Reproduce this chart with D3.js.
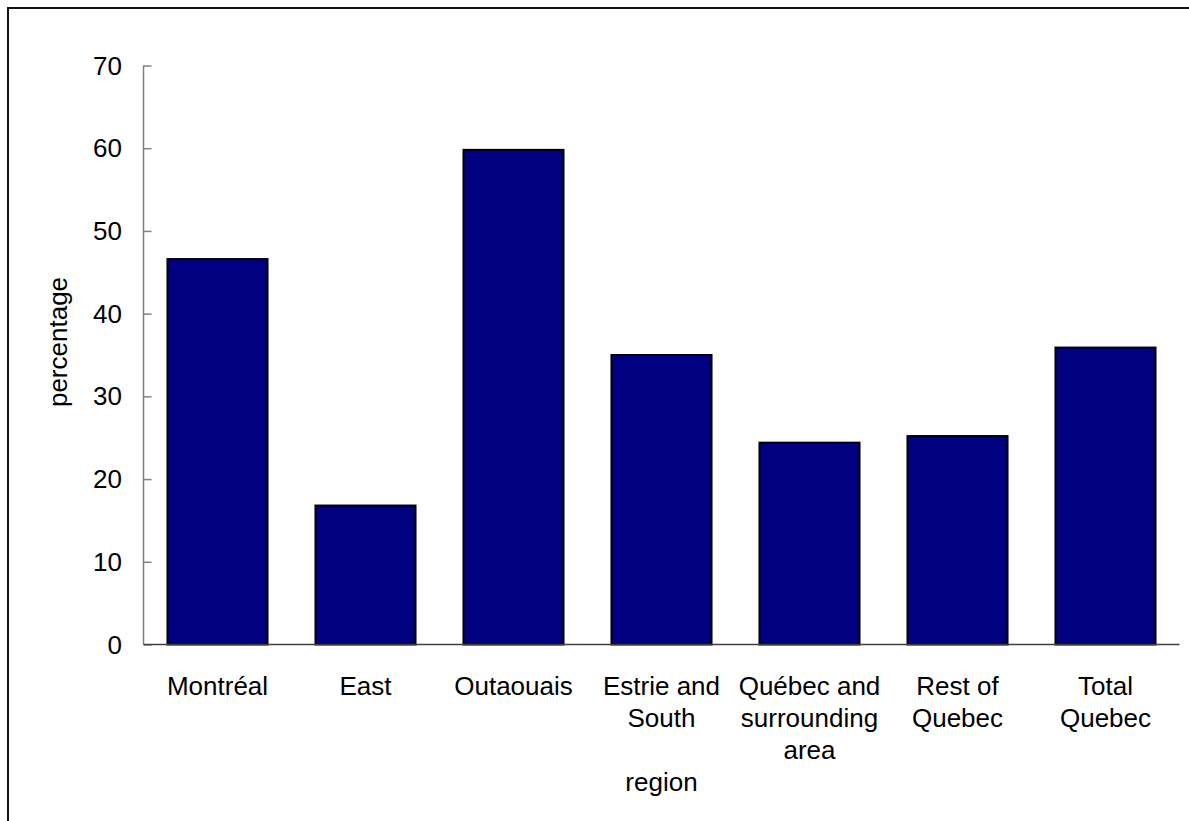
<!DOCTYPE html>
<html>
<head>
<meta charset="utf-8">
<script src="https://cdn.jsdelivr.net/npm/d3@7"></script>
<style>
  html, body { margin: 0; padding: 0; background: #fff; }
  svg { display: block; font-family: Arial, "Liberation Sans", sans-serif; }
</style>
</head>
<body>
<svg id="chart" width="1189" height="821"></svg>
<script>
const categories = [
  ["Montréal"],
  ["East"],
  ["Outaouais"],
  ["Estrie and", "South"],
  ["Québec and", "surrounding", "area"],
  ["Rest of", "Quebec"],
  ["Total", "Quebec"]
];
const values = [46.6, 16.8, 59.8, 35.0, 24.4, 25.2, 35.9];
const yTicks = [0, 10, 20, 30, 40, 50, 60, 70];
const xTitle = "region";
const yTitle = "percentage";

(function () {
const svg = d3.select("#chart");
const plotLeft = 143.5, plotRight = 1179.5, plotTop = 65.5, plotBottom = 644.5;
const fontSize = 26;

// frame
svg.append("rect")
  .attr("x", 8).attr("y", 8)
  .attr("width", 1300).attr("height", 1000)
  .attr("fill", "none").attr("stroke", "#111").attr("stroke-width", 2);

const keys = categories.map((c, i) => i);
const x = d3.scaleBand().domain(keys).range([plotLeft, plotRight]).paddingInner(0.324).paddingOuter(0.162);
const y = d3.scaleLinear().domain([0, 70]).range([plotBottom, plotTop]);

// bars
svg.append("g").selectAll("rect").data(values).join("rect")
  .attr("x", (d, i) => x(i))
  .attr("y", d => y(d))
  .attr("width", x.bandwidth())
  .attr("height", d => y(0) - y(d))
  .attr("fill", "#000080")
  .attr("stroke", "#000")
  .attr("stroke-width", 2);

// y axis
const yAxis = d3.axisRight(y).tickValues(yTicks).tickSize(8).tickFormat("");
const gy = svg.append("g").attr("transform", `translate(${plotLeft},0)`).call(yAxis);
gy.select(".domain").attr("stroke", "#808080").attr("stroke-width", 1.5).attr("d", `M0,${plotTop}V${plotBottom}`);
gy.selectAll(".tick line").attr("stroke", "#808080").attr("stroke-width", 1.5);

svg.append("g").selectAll("text").data(yTicks).join("text")
  .attr("x", 122)
  .attr("y", d => y(d))
  .attr("dy", "0.35em")
  .attr("text-anchor", "end")
  .attr("font-size", fontSize)
  .attr("fill", "#000")
  .text(d => d);

// x axis line
svg.append("line")
  .attr("x1", plotLeft).attr("x2", plotRight)
  .attr("y1", plotBottom).attr("y2", plotBottom)
  .attr("stroke", "#404040").attr("stroke-width", 1.5);

// category labels
const lab = svg.append("g").selectAll("text").data(categories).join("text")
  .attr("text-anchor", "middle")
  .attr("font-size", fontSize)
  .attr("fill", "#000");
lab.each(function(lines, i) {
  const t = d3.select(this);
  lines.forEach((l, j) => {
    t.append("tspan")
      .attr("x", x(i) + x.bandwidth() / 2)
      .attr("y", 695 + j * 32)
      .text(l);
  });
});

// axis titles
svg.append("text")
  .attr("x", (plotLeft + plotRight) / 2)
  .attr("y", 791)
  .attr("text-anchor", "middle")
  .attr("font-size", fontSize)
  .text(xTitle);

svg.append("text")
  .attr("transform", "translate(67,342) rotate(-90)")
  .attr("text-anchor", "middle")
  .attr("font-size", fontSize)
  .text(yTitle);
})();
</script>
</body>
</html>
